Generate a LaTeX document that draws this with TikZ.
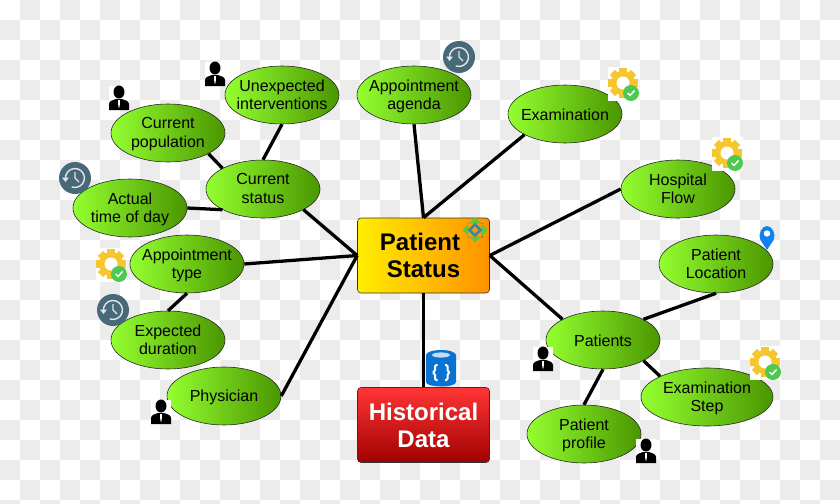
\documentclass[tikz,border=0pt]{standalone}
\usepackage{fontspec}
\setmainfont{Liberation Sans}
\usepackage{xcolor}
\usetikzlibrary{shapes.geometric, arrows.meta, positioning, calc}
\definecolor{tilegray}{HTML}{ECECEC}
\definecolor{clockblue}{HTML}{47697A}
\definecolor{gearyellow}{HTML}{F6C62E}
\definecolor{okgreen}{HTML}{4FC850}
\definecolor{pinblue}{HTML}{0F82F0}
\definecolor{dbblue}{HTML}{0A72D2}
\definecolor{markgreen}{HTML}{5CC83A}
\definecolor{markblue}{HTML}{3A86A8}
\definecolor{blobleft}{HTML}{94FF30}
\definecolor{blobright}{HTML}{4A9600}
\definecolor{hubleft}{HTML}{FFEE00}
\definecolor{hubright}{HTML}{FF9200}
\definecolor{histtop}{HTML}{FF3535}
\definecolor{histbottom}{HTML}{A00000}

\begin{document}
\begin{tikzpicture}[
    x=0.03cm, y=-0.03cm,
    blob/.style={ellipse, draw=black!85, line width=0.5pt, inner sep=-8pt,
                 minimum width=3.42cm, minimum height=1.74cm, align=center,
                 left color=blobleft, right color=blobright,
                 font=\fontsize{13.65}{15.4}\selectfont},
    oneline/.style={blob, execute at begin node={\rule{0pt}{12pt}}},
    twoline/.style={blob, text depth=1pt},
    widerblob/.style={twoline, minimum width=3.96cm},
    hub/.style={rectangle, draw=black!80, line width=0.5pt, rounded corners=3pt,
                minimum width=3.96cm, minimum height=2.25cm, align=center,
                font=\fontsize{20.5}{23}\selectfont\bfseries},
    arr/.style={line width=2.8pt},
    pics/personicon/.style={code={
        \fill[white] (-10,-12) rectangle (10,12);
        \fill[black] (0,-6) ellipse [x radius=5.5, y radius=6.5];
        \fill[black] (-10,12) -- (-10,6) .. controls (-10,3) and (-6,2) .. (-3,1)
            -- (3,1) .. controls (6,2) and (10,3) .. (10,6) -- (10,12) -- cycle;
        \fill[white] (-1,2) -- (1,2) -- (0.7,8) -- (0,10) -- (-0.7,8) -- cycle;
    }},
    pics/clockicon/.style={code={
        \fill[clockblue] (0,0) circle [radius=16];
        \draw[white!90!black, line width=1.2pt] (-9.5,1) arc [start angle=174, end angle=470, radius=9.5];
        \fill[white!90!black] (-13,-0.5) -- (-6,-0.5) -- (-9.5,4) -- cycle;
        \draw[white!90!black, line width=1pt] (0,-6) -- (0,0) -- (4,4);
    }},
    pics/gearicon/.style={code={
        \fill[white] (-15,-16) rectangle (16,18);
        \foreach \a in {0,45,...,315} {
            \fill[gearyellow, rotate=\a] (-3.6,-15) rectangle (3.6,-9);
        }
        \fill[gearyellow] (0,0) circle [radius=12];
        \fill[white] (0,0) circle [radius=6.5];
        \fill[okgreen] (8,10) circle [radius=8];
        \draw[white, line width=1.2pt] (4.5,10) -- (7,12.5) -- (11.5,7.5);
    }},
    pics/pinicon/.style={code={
        \fill[pinblue] (0,13) -- (-6.6,3) .. controls (-9.5,-3) and (-5,-11) .. (0,-11)
            .. controls (5,-11) and (9.5,-3) .. (6.6,3) -- cycle;
        \fill[white] (0,-3.5) circle [radius=3.2];
    }},
    pics/dbicon/.style={code={
        \fill[dbblue] (-15,-13) -- (-15,14) .. controls (-15,20) and (15,20) .. (15,14) -- (15,-13) -- cycle;
        \fill[dbblue] (0,-13) ellipse [x radius=15, y radius=5];
        \fill[white!75!dbblue] (0,-13) ellipse [x radius=9, y radius=2.6];
        \draw[white, line width=1.7pt, rounded corners=1pt]
            (-3.5,-3) -- (-6,-3) -- (-6,3) -- (-8.5,4.5) -- (-6,6) -- (-6,12) -- (-3.5,12);
        \draw[white, line width=1.7pt, rounded corners=1pt]
            (4,-3) -- (6.5,-3) -- (6.5,3) -- (9,4.5) -- (6.5,6) -- (6.5,12) -- (4,12);
    }},
    pics/markicon/.style={code={
        \foreach \a in {0,90,180,270} {
            \fill[markgreen, rotate=\a] (0,-12.5) -- (5.5,-7) -- (3,-6.5) -- (-3,-6.5) -- (-5.5,-7) -- cycle;
            \fill[gray, rotate=\a] (6,-7.5) rectangle (7.5,-6);
        }
        \draw[markblue, line width=2.2pt] (0,-5.5) -- (5.5,0) -- (0,5.5) -- (-5.5,0) -- cycle;
    }}
]
\useasboundingbox (0,0) rectangle (840,503);
\begin{scope}
\clip (0,0) rectangle (840,503);
\fill[white] (0,0) rectangle (840,503);
\foreach \i in {0,...,41} {
    \foreach \j in {0,...,25} {
        \ifodd\numexpr\i+\j\relax
            \fill[tilegray] (20*\i,20*\j) rectangle (20*\i+20,20*\j+20);
        \fi
    }
}
\end{scope}

\node[hub, left color=hubleft, right color=hubright] (status) at (423.5,255.5) {Patient\hspace{6pt}\mbox{}\\Status};
\node[hub, top color=histtop, bottom color=histbottom, text=white] (hist) at (423.5,425) {Historical\\Data};

\node[twoline] (unexp)  at (282,95)  {Unexpected\\interventions};
\node[twoline] (agenda) at (414,95)  {Appointment\\agenda};
\node[oneline] (exam)   at (565,114) {Examination};
\node[twoline] (flow)   at (678,189) {Hospital\\Flow};
\node[twoline] (loc)    at (716,264) {Patient\\Location};
\node[oneline] (pats)   at (603,340) {Patients};
\node[widerblob] (step) at (707,397) {Examination\\Step};
\node[twoline] (prof)   at (584,434) {Patient\\profile};
\node[twoline] (cur)    at (263,189) {Current\\status};
\node[twoline] (pop)    at (168,133) {Current\\population};
\node[twoline] (tod)    at (130,208) {Actual\\time of day};
\node[twoline] (atype)  at (187,264) {Appointment\\type};
\node[twoline] (dur)    at (168,340) {Expected\\duration};
\node[oneline] (phys)   at (224,396) {Physician};

\draw[arr] (agenda.south) -- (status.north);
\draw[arr] (exam.south west) -- (status.north);
\draw[arr] (flow.west) -- (status.east);
\draw[arr] (pats.north west) -- (status.east);
\draw[arr] (cur.south east) -- (status.west);
\draw[arr] (atype.east) -- (status.west);
\draw[arr] (phys.east) -- (status.west);
\draw[arr] (hist.north) -- (status.south);
\draw[arr] (unexp.south) -- (cur.north);
\draw[arr] (pop.south east) -- (cur.north west);
\draw[arr] (tod.east) -- (cur.south west);
\draw[arr] (atype.south) -- (dur.north);
\draw[arr] (loc.south) -- (pats.north east);
\draw[arr] (pats.south east) -- (step.north west);
\draw[arr] (pats.south) -- (prof.north);

\pic at (119,98)  {personicon};
\pic at (215,74)  {personicon};
\pic at (543,359) {personicon};
\pic at (646,451) {personicon};
\pic at (161,412) {personicon};
\pic at (459,57)  {clockicon};
\pic at (75,178)  {clockicon};
\pic at (113,310) {clockicon};
\pic at (623,83)  {gearicon};
\pic at (727,153) {gearicon};
\pic at (111,264) {gearicon};
\pic at (765,362) {gearicon};
\pic at (767,237) {pinicon};
\pic at (441,368) {dbicon};
\pic at (475,230) {markicon};
\end{tikzpicture}
\end{document}
